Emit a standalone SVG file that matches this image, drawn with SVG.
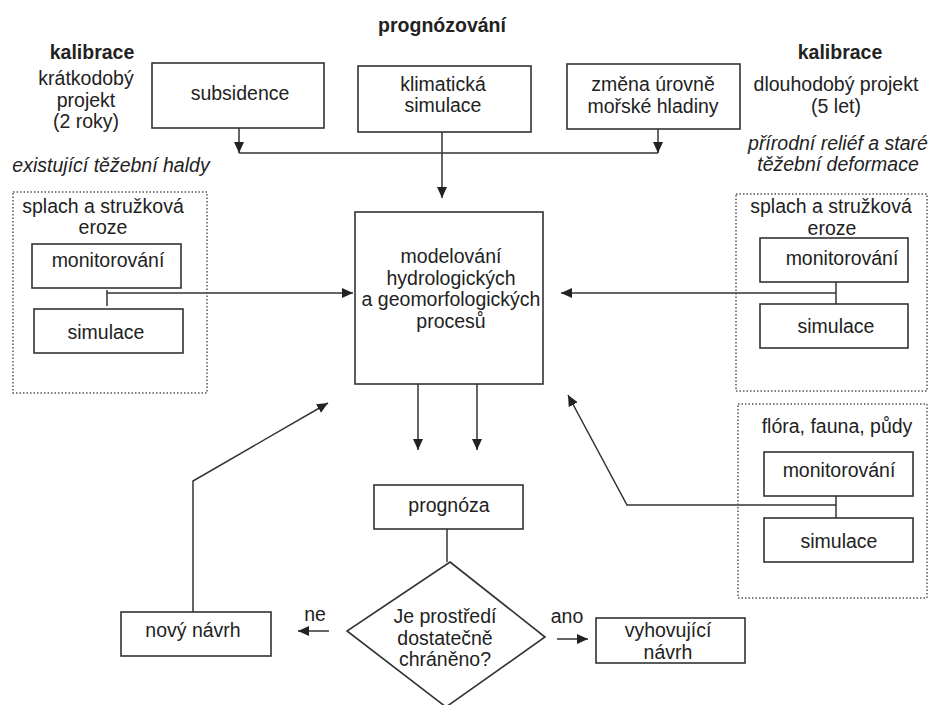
<svg xmlns="http://www.w3.org/2000/svg" width="930" height="705" viewBox="0 0 930 705">
  <defs>
    <marker id="arrow" markerUnits="userSpaceOnUse" markerWidth="12" markerHeight="10" refX="11" refY="5" orient="auto">
      <path d="M0,0 L11,5 L0,10 z" fill="#222"/>
    </marker>
    <style>
      text { font-family: "Liberation Sans", Arial, sans-serif; font-size: 19.5px; fill: #222; text-anchor: middle; }
      .bold { font-weight: bold; }
      .ital { font-style: italic; }
      .box { fill: #fff; stroke: #333; stroke-width: 1.6; }
      .group { fill: none; stroke: #555; stroke-width: 1.5; stroke-dasharray: 1.5 2; }
      .link { fill: none; stroke: #333; stroke-width: 1.5; }
      .arr { marker-end: url(#arrow); }
    </style>
  </defs>

  <rect width="930" height="705" fill="#fff"/>

  <!-- headings -->
  <g id="headings">
    <text class="bold" x="442" y="32">prognózování</text>
    <text class="bold" x="92" y="59">kalibrace</text>
    <text x="86" y="85">krátkodobý</text>
    <text x="86" y="107">projekt</text>
    <text x="86" y="128">(2 roky)</text>
    <text class="ital" x="111" y="172">existující těžební haldy</text>
    <text class="bold" x="840" y="59">kalibrace</text>
    <text x="836" y="91">dlouhodobý projekt</text>
    <text x="836" y="113">(5 let)</text>
    <text class="ital" x="838" y="150">přírodní reliéf a staré</text>
    <text class="ital" x="838" y="171">těžební deformace</text>
  </g>

  <!-- connectors -->
  <g id="connectors">
    <path class="link arr" d="M239,128 V153"/>
    <path class="link" d="M239,153 H658"/>
    <path class="link arr" d="M658,129 V153"/>
    <path class="link arr" d="M442,132 V198"/>
    <path class="link" d="M107,290 V306"/>
    <path class="link arr" d="M107,293 H353"/>
    <path class="link" d="M836,282 V304"/>
    <path class="link arr" d="M836,293 H561"/>
    <path class="link arr" d="M418,384 V450"/>
    <path class="link arr" d="M477,384 V450"/>
    <path class="link" d="M836,496 V518"/>
    <path class="link arr" d="M836,505 H627 L568,395"/>
    <path class="link" d="M447,529 V562"/>
    <path class="link arr" d="M329,631 H298"/>
    <path class="link arr" d="M557,639 H588"/>
    <path class="link arr" d="M193,612 V481 L328,403"/>
  </g>

  <!-- forecasting inputs -->
  <g id="subsidence">
    <rect class="box" x="152" y="63" width="172" height="65"/>
    <text x="240" y="100">subsidence</text>
  </g>
  <g id="klimaticka-simulace">
    <rect class="box" x="358" y="66" width="173" height="66"/>
    <text x="443" y="91">klimatická</text>
    <text x="443" y="112">simulace</text>
  </g>
  <g id="zmena-hladiny">
    <rect class="box" x="567" y="64" width="173" height="65"/>
    <text x="653" y="91">změna úrovně</text>
    <text x="653" y="113">mořské hladiny</text>
  </g>

  <!-- left calibration group -->
  <g id="eroze-kratkodoba">
    <rect class="group" x="13" y="192" width="194" height="201"/>
    <text x="103" y="213">splach a stružková</text>
    <text x="103" y="234">eroze</text>
  </g>
  <g id="monitorovani-1">
    <rect class="box" x="32" y="244" width="149" height="44"/>
    <text x="108" y="267">monitorování</text>
  </g>
  <g id="simulace-1">
    <rect class="box" x="34" y="309" width="149" height="44"/>
    <text x="106" y="339">simulace</text>
  </g>

  <!-- central model -->
  <g id="modelovani">
    <rect class="box" x="355" y="212" width="188" height="172"/>
    <text x="451" y="263">modelování</text>
    <text x="451" y="285">hydrologických</text>
    <text x="451" y="306">a geomorfologických</text>
    <text x="451" y="328">procesů</text>
  </g>

  <!-- right calibration groups -->
  <g id="eroze-dlouhodoba">
    <rect class="group" x="736" y="194" width="191" height="197"/>
    <text x="831" y="213">splach a stružková</text>
    <text x="832" y="235">eroze</text>
  </g>
  <g id="monitorovani-2">
    <rect class="box" x="760" y="238" width="148" height="44"/>
    <text x="842" y="265">monitorování</text>
  </g>
  <g id="simulace-2">
    <rect class="box" x="760" y="304" width="148" height="44"/>
    <text x="836" y="333">simulace</text>
  </g>
  <g id="flora-fauna">
    <rect class="group" x="738" y="404" width="189" height="194"/>
    <text x="837" y="433">flóra, fauna, půdy</text>
  </g>
  <g id="monitorovani-3">
    <rect class="box" x="764" y="452" width="149" height="44"/>
    <text x="839" y="477">monitorování</text>
  </g>
  <g id="simulace-3">
    <rect class="box" x="764" y="518" width="149" height="44"/>
    <text x="839" y="548">simulace</text>
  </g>

  <!-- evaluation -->
  <g id="prognoza">
    <rect class="box" x="374" y="485" width="149" height="44"/>
    <text x="449" y="512">prognóza</text>
  </g>
  <g id="rozhodnuti">
    <path class="box" d="M450,562 L545,637 L446,707 L347,631 Z"/>
    <text x="445" y="623">Je prostředí</text>
    <text x="445" y="645">dostatečně</text>
    <text x="445" y="666">chráněno?</text>
  </g>
  <g id="labels">
    <text x="315" y="621">ne</text>
    <text x="567" y="623">ano</text>
  </g>
  <g id="novy-navrh">
    <rect class="box" x="121" y="612" width="150" height="44"/>
    <text x="193" y="637">nový návrh</text>
  </g>
  <g id="vyhovujici-navrh">
    <rect class="box" x="596" y="618" width="149" height="45"/>
    <text x="668" y="637">vyhovující</text>
    <text x="668" y="659">návrh</text>
  </g>
</svg>
